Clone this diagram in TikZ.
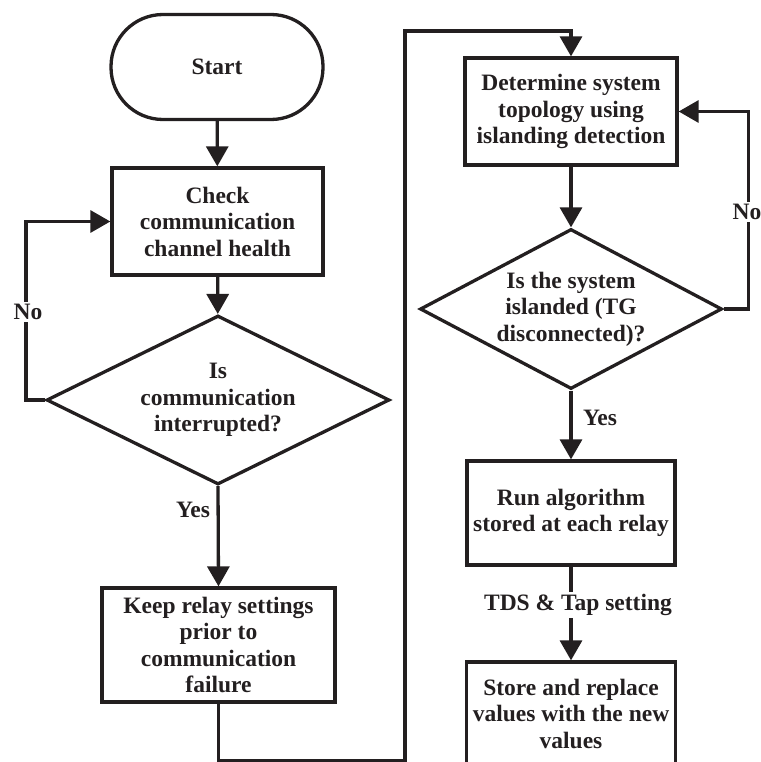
\documentclass[tikz,border=0pt]{standalone}
\usepackage{fontspec}
\setmainfont{Liberation Serif}
\usetikzlibrary{arrows.meta,shapes.geometric}
\definecolor{ink}{RGB}{35,31,32}
\begin{document}
\begin{tikzpicture}[x=1pt,y=-1pt,
  every node/.style={font=\fontsize{23.5}{26.5}\selectfont\bfseries, text=ink},
  flow/.style={draw=ink, line width=3.3pt, align=center},
  procbox/.style={flow, rectangle, inner sep=0pt},
  terminal/.style={flow, rectangle, rounded corners=52pt, minimum width=212pt, minimum height=105pt},
  decision/.style={flow, diamond, inner sep=0pt},
  link/.style={draw=ink, line width=3.3pt, -{Triangle[length=20pt,width=22pt]}},
  lbl/.style={fill=white, inner sep=2pt}
]
\useasboundingbox (0,0) rectangle (760,762);
\clip (0,0) rectangle (760,762);

% left column
\node[terminal] (start) at (217,67) {Start};
\node[procbox, minimum width=211pt, minimum height=107pt] (check) at (217.5,221.5)
  {Check\\communication\\channel health};
\node[decision, aspect=2.03, minimum width=343pt, minimum height=169pt] (q1) at (218,400)
  {Is\\communication\\interrupted?};
\node[procbox, minimum width=233pt, minimum height=114pt] (keep) at (218.5,645)
  {Keep relay settings\\prior to\\communication\\failure};

% right column
\node[procbox, minimum width=212pt, minimum height=107pt] (topo) at (571,111.5)
  {Determine system\\topology using\\islanding detection};
\node[decision, aspect=1.89, minimum width=302pt, minimum height=160pt] (q2) at (571,309)
  {Is the system\\islanded (TG\\disconnected)?};
\node[procbox, minimum width=208pt, minimum height=104pt] (run) at (571,513)
  {Run algorithm\\stored at each relay};
\node[procbox, minimum width=209pt, minimum height=103pt] (store) at (571,713.5)
  {Store and replace\\values with the new\\values};

% routing points of the link between the two columns
\coordinate (b1) at (218.5,761);
\coordinate (b2) at (405,761);
\coordinate (t1) at (405,31);

% connectors
\draw[link] (start) -- (check);
\draw[link] (check) -- (q1);
\draw[link] (q1.west) -- ++(-19,0) |- (check.west);
\node[lbl] (no1) at (28,312) {No};
\draw[link] (q1.south) -- (keep.north);
\node (yes1) at (193,510) {Yes};
\draw[link] (keep.south) -- (b1) -- (b2) -- (t1) -| (topo.north);

\draw[link] (topo) -- (q2);
\draw[link] (q2.east) -- ++(25,0) |- (topo.east);
\node[lbl] (no2) at (747,212) {No};
\draw[link] (q2.south) -- (run.north);
\node (yes2) at (600,418) {Yes};
\draw[link] (run) -- (store);
\node[lbl] (tds) at (578,605) {TDS \& Tap setting};
\end{tikzpicture}
\end{document}
